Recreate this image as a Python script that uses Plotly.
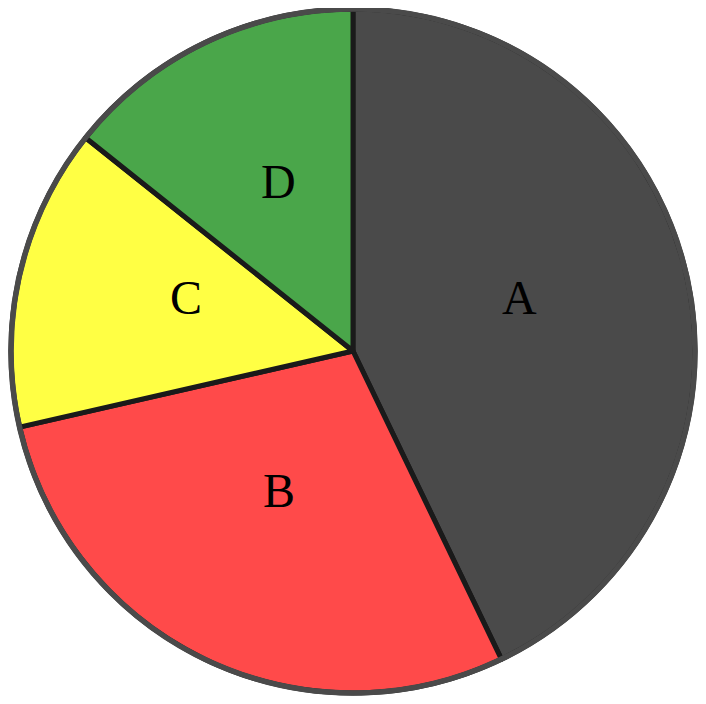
import math
import plotly.graph_objects as go

labels = ["A", "B", "C", "D"]
values = [3, 2, 1, 1]
colors = ["#4a4a4a", "#ff4a4a", "#ffff44", "#4aa64a"]

W, H = 698, 696
ML, MR, MT, MB = 2, 10, 1, 11
pw, ph = W - ML - MR, H - MT - MB
R = min(pw, ph) / 2.0

fig = go.Figure()
fig.add_trace(go.Pie(
    labels=labels, values=values, sort=False, direction="clockwise", rotation=0,
    marker=dict(colors=colors, line=dict(color="#1a1a1a", width=5)),
    textinfo="none",
    showlegend=False, hoverinfo="label+value",
))
fig.add_trace(go.Pie(
    labels=["outline"], values=[1], sort=False,
    marker=dict(colors=["rgba(0,0,0,0)"], line=dict(color="#4a4a4a", width=5.5)),
    textinfo="none", hoverinfo="skip", showlegend=False,
))

total = float(sum(values))
cum = 0.0
for lab, v in zip(labels, values):
    mid = (cum + v / 2.0) / total * 2 * math.pi
    cum += v
    dx = 0.5 * R * math.sin(mid)
    dy = 0.5 * R * math.cos(mid)
    fig.add_annotation(
        x=0.5 + dx / pw, y=0.5 + dy / ph, xref="paper", yref="paper",
        text=lab, showarrow=False, xanchor="center", yanchor="middle", yshift=15,
        font=dict(family="Liberation Serif, Times New Roman, serif", size=48, color="black"),
    )

fig.update_layout(
    width=W, height=H,
    margin=dict(l=ML, r=MR, t=MT, b=MB),
    paper_bgcolor="white", plot_bgcolor="white",
    showlegend=False,
)
fig.write_html("out.html")
